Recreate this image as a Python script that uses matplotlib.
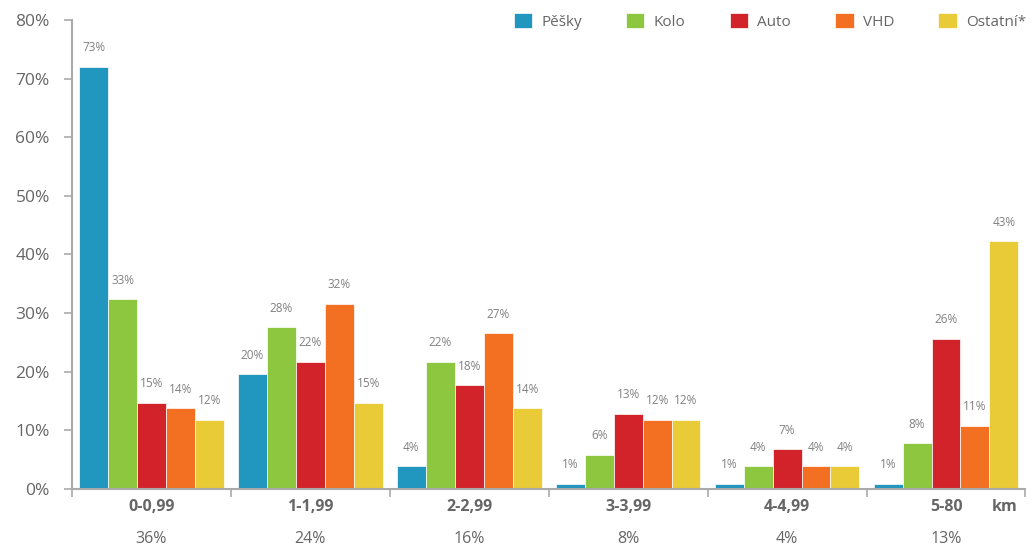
import matplotlib.pyplot as plt
import numpy as np

plt.rcParams['font.family'] = ['Open Sans', 'DejaVu Sans']

# distance bands (km) and their share of all trips
categories = ['0-0,99', '1-1,99', '2-2,99', '3-3,99', '4-4,99', '5-80']
shares = ['36%', '24%', '16%', '8%', '4%', '13%']

modes = ['Pěšky', 'Kolo', 'Auto', 'VHD', 'Ostatní*']
colors = ['#2196be', '#8dc63f', '#d2232a', '#f36f21', '#e8cb36']

# bar heights as drawn (%) per mode, one value per distance band
peshky = [72.0, 19.6, 3.9, 0.9, 0.9, 0.9]
kolo = [32.4, 27.6, 21.7, 5.8, 3.9, 7.8]
auto = [14.7, 21.7, 17.7, 12.8, 6.8, 25.6]
vhd = [13.8, 31.6, 26.6, 11.8, 3.9, 10.8]
ostatni = [11.8, 14.7, 13.8, 11.8, 3.9, 42.3]

# printed value labels
peshky_lbl = ['73%', '20%', '4%', '1%', '1%', '1%']
kolo_lbl = ['33%', '28%', '22%', '6%', '4%', '8%']
auto_lbl = ['15%', '22%', '18%', '13%', '7%', '26%']
vhd_lbl = ['14%', '32%', '27%', '12%', '4%', '11%']
ostatni_lbl = ['12%', '15%', '14%', '12%', '4%', '43%']

series = [peshky, kolo, auto, vhd, ostatni]
labels = [peshky_lbl, kolo_lbl, auto_lbl, vhd_lbl, ostatni_lbl]

grey = '#666666'
fig = plt.figure(figsize=(10.33, 5.49), dpi=100)
ax = fig.add_axes([0.0697, 0.1093, 0.923, 0.8543])

x = np.arange(len(categories))
width = 0.182
for i, (vals, lbls) in enumerate(zip(series, labels)):
    pos = x + (i - 2) * width
    bars = ax.bar(pos, vals, width, color=colors[i], edgecolor='white',
                  linewidth=0.5, label=modes[i], zorder=2)
    for b, t in zip(bars, lbls):
        ax.annotate(t, (b.get_x() + b.get_width() / 2, b.get_height()),
                    xytext=(0, 9), textcoords='offset points',
                    ha='center', va='bottom', fontsize=8.5, color='#808080')

ax.set_xlim(-0.5, len(categories) - 0.5)
ax.set_ylim(0, 80)
ax.set_yticks(range(0, 81, 10))
ax.set_yticklabels([f'{v}%' for v in range(0, 81, 10)], fontsize=12.5, color=grey)

ax.set_xticks(np.arange(-0.5, len(categories), 1))
ax.set_xticklabels([])
ax.tick_params(axis='x', length=6, color='#aaaaaa', width=1.2)
ax.tick_params(axis='y', length=6, color='#aaaaaa', width=1.2, pad=10)

for xi, c, s in zip(x, categories, shares):
    ax.text(xi, -3.0, c, ha='center', va='center', fontsize=11.5,
            fontweight='bold', color=grey)
    ax.text(xi, -8.5, s, ha='center', va='center', fontsize=11.5, color=grey)
ax.text(5.37, -3.0, 'km', ha='center', va='center', fontsize=11.5,
        fontweight='bold', color=grey)

for side in ['top', 'right']:
    ax.spines[side].set_visible(False)
for side in ['left', 'bottom']:
    ax.spines[side].set_color('#aaaaaa')
    ax.spines[side].set_linewidth(1.5)

ax.legend(loc='upper right', bbox_to_anchor=(1.015, 1.045), ncol=5, frameon=False,
          fontsize=11, labelcolor=grey, handlelength=1.2, handleheight=1.2,
          handletextpad=0.6, columnspacing=2.9)

fig.savefig('out.png', dpi=100)
